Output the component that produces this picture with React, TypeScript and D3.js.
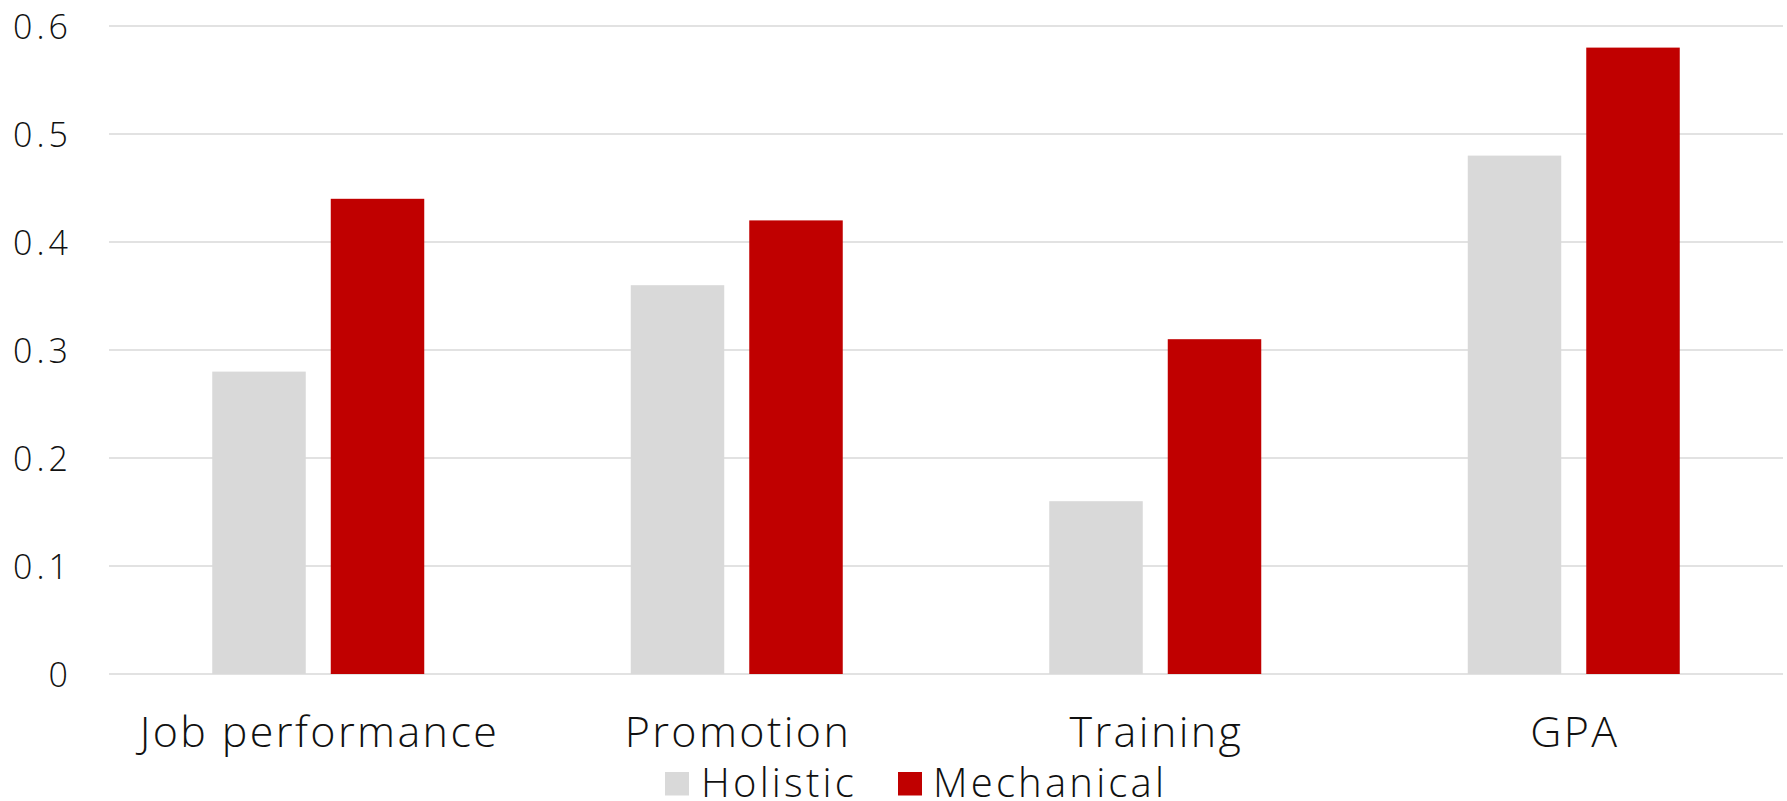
import React from "react";
import * as d3 from "d3";

const categories = ["Job performance", "Promotion", "Training", "GPA"];
const seriesNames = ["Holistic", "Mechanical"];
const holisticValues = [0.28, 0.36, 0.16, 0.48];
const mechanicalValues = [0.44, 0.42, 0.31, 0.58];
const yTicks = [0, 0.1, 0.2, 0.3, 0.4, 0.5, 0.6];
const yTickLabels = ["0", "0.1", "0.2", "0.3", "0.4", "0.5", "0.6"];
const seriesColors = ["#d9d9d9", "#c00000"];

const W = 1787;
const H = 801;
const FONT = "'Open Sans', sans-serif";

export default function App() {
  const x = d3.scaleBand<string>().domain(categories).range([109, 1783]).paddingInner(0).paddingOuter(0);
  const y = d3.scaleLinear().domain([0, 0.6]).range([674, 26]);
  const groupHalf = 106;
  const sub = d3.scaleBand<string>().domain(seriesNames).range([-groupHalf, groupHalf]).paddingInner(0.211).paddingOuter(0);
  const seriesValues = [holisticValues, mechanicalValues];

  const legendItems = [
    { name: seriesNames[0], sq: 665, tx: 701 },
    { name: seriesNames[1], sq: 898, tx: 933 },
  ];

  return (
    <svg width={W} height={H} style={{ position: "absolute", left: 0, top: 0, background: "#fff" }}>
      <rect x={0} y={0} width={W} height={H} fill="#fff" />
      {yTicks.map((t, i) => (
        <g key={"t" + i}>
          <line x1={109} x2={1783} y1={y(t)} y2={y(t)} stroke="#d9d9d9" strokeWidth={1.5} />
          <text
            x={72}
            y={y(t) + 12.5}
            textAnchor="end"
            fontFamily={FONT}
            fontWeight={300}
            fontSize={34}
            letterSpacing={4}
            fill="#111"
          >
            {yTickLabels[i]}
          </text>
        </g>
      ))}
      {categories.map((c, ci) => {
        const cx = (x(c) as number) + x.bandwidth() / 2;
        return (
          <g key={c}>
            {seriesNames.map((s, si) => {
              const v = seriesValues[si][ci];
              return (
                <rect
                  key={s}
                  x={cx + (sub(s) as number)}
                  y={y(v)}
                  width={sub.bandwidth()}
                  height={y(0) - y(v)}
                  fill={seriesColors[si]}
                />
              );
            })}
            <text
              x={cx + 1.2}
              y={746.5}
              textAnchor="middle"
              fontFamily={FONT}
              fontWeight={300}
              fontSize={43}
              letterSpacing={2.4}
              fill="#111"
            >
              {c}
            </text>
          </g>
        );
      })}
      {legendItems.map((l, i) => (
        <g key={l.name}>
          <rect x={l.sq} y={772} width={24} height={23.5} fill={seriesColors[i]} />
          <text
            x={l.tx}
            y={796.5}
            fontFamily={FONT}
            fontWeight={300}
            fontSize={40}
            letterSpacing={3.2}
            fill="#111"
          >
            {l.name}
          </text>
        </g>
      ))}
    </svg>
  );
}
